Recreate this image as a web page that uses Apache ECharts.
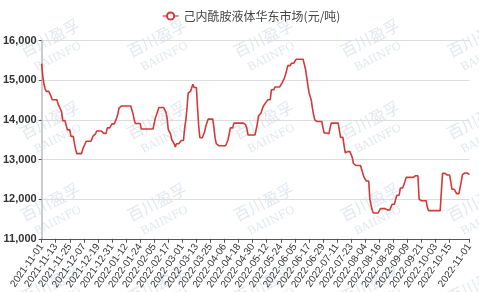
<!DOCTYPE html>
<html><head><meta charset="utf-8">
<script src="https://cdn.jsdelivr.net/npm/echarts@6/dist/echarts.min.js"></script>
<style>html,body{margin:0;padding:0;background:#fff}#c{width:479px;height:292px}</style>
</head><body><div id="c"></div>
<script>
// ---- data ----
const startDate = '2021-11-01';   // first category (daily categories through 2022-11-01)
const dayCount = 366;
const seriesName = '己内酰胺液体华东市场(元/吨)';
const prices = [
15420,15100,14900,14780,14720,14720,14720,14720,14600,14510,
14510,14510,14510,14510,14400,14340,14300,14210,13980,13980,
13980,13850,13750,13750,13750,13585,13585,13585,13400,13250,
13150,13150,13150,13150,13150,13250,13330,13330,13460,13460,
13460,13460,13460,13460,13600,13650,13650,13720,13720,13720,
13720,13720,13720,13660,13660,13660,13800,13800,13800,13850,
13900,13900,13900,13950,14050,14150,14300,14350,14350,14350,
14350,14350,14350,14350,14350,14350,14350,14350,14150,14000,
13910,13910,13910,13910,13910,13770,13770,13770,13770,13770,
13770,13770,13770,13770,13770,13770,13770,14050,14130,14130,
14315,14315,14315,14315,14315,14315,14200,14050,13760,13760,
13650,13500,13500,13400,13320,13400,13400,13400,13400,13480,
13480,13480,13800,13990,14300,14680,14720,14720,14760,14900,
14820,14820,14820,14300,13840,13550,13550,13550,13550,13700,
13840,13840,14020,14020,14020,14020,14020,13800,13540,13400,
13350,13350,13350,13350,13350,13350,13350,13350,13350,13500,
13500,13800,13800,13800,13920,13920,13920,13920,13920,13920,
13920,13920,13920,13920,13880,13800,13620,13620,13620,13620,
13620,13620,13620,13620,13900,14100,14100,14170,14170,14340,
14340,14430,14430,14510,14510,14510,14760,14760,14760,14830,
14830,14830,14830,14830,14880,14930,14930,15050,15140,15250,
15370,15370,15370,15430,15430,15430,15430,15530,15530,15530,
15530,15530,15530,15530,15530,15300,15100,14900,14700,14700,
14500,14300,14130,14000,14000,13960,13960,13960,13960,13960,
13800,13670,13670,13670,13650,13650,13650,13920,13920,13920,
13920,13920,13920,13920,13920,13560,13560,13560,13350,13170,
13200,13200,13200,13200,13200,13050,12900,12850,12850,12850,
12850,12850,12850,12850,12650,12550,12550,12460,12460,12460,
12000,11850,11720,11650,11650,11650,11650,11650,11650,11760,
11760,11760,11760,11760,11760,11730,11730,11730,11800,11870,
11870,11870,12000,12100,12100,12100,12280,12280,12280,12280,
12450,12550,12550,12550,12550,12550,12550,12550,12590,12590,
12590,12590,12000,11960,11960,11960,11960,11960,11960,11800,
11710,11710,11710,11710,11710,11710,11710,11710,11710,11710,
11710,12200,12650,12650,12650,12610,12610,12610,12610,12450,
12250,12250,12250,12250,12140,12140,12140,12140,12450,12620,
12620,12660,12660,12660,12660,12620
];
const yMin = 11000, yMax = 16000, yStep = 1000;
const labelEvery = 12;
const watermarkTexts = ['百川盈孚', 'BAIINFO'];

// ---- categories (calendar days) ----
const categories = [];
{
  const p = startDate.split('-').map(Number);
  const t0 = Date.UTC(p[0], p[1] - 1, p[2]);
  for (let i = 0; i < dayCount; i++) {
    const d = new Date(t0 + i * 86400000);
    categories.push(d.getUTCFullYear() + '-' + String(d.getUTCMonth() + 1).padStart(2, '0') + '-' + String(d.getUTCDate()).padStart(2, '0'));
  }
}
const lastIdx = dayCount - 1;
const showIdx = (i) => (i % labelEvery === 0 && lastIdx - i >= labelEvery) || i === lastIdx;

// ---- watermark ----
const wm = [];
for (let r = 0; r < 4; r++) {
  for (let c = 0; c < 5; c++) {
    const cx = 50 + c * 106.7, cy = 38 + r * 82;
    wm.push({type: 'text', x: cx, y: cy, rotation: 0.47, silent: true, z: -10,
      style: {text: watermarkTexts[0], fontSize: 16, fill: 'rgba(190,202,220,0.45)', align: 'center', verticalAlign: 'middle', fontFamily: 'Noto Sans CJK SC'}});
    wm.push({type: 'text', x: cx + 8, y: cy + 19, rotation: 0.47, silent: true, z: -10,
      style: {text: watermarkTexts[1], fontSize: 11, fill: 'rgba(190,202,220,0.45)', align: 'center', verticalAlign: 'middle', fontFamily: 'DejaVu Serif'}});
  }
}

const chart = echarts.init(document.getElementById('c'), null, {renderer: 'canvas'});
chart.setOption({
  animation: false,
  backgroundColor: '#fff',
  graphic: wm,
  legend: {
    top: 5, left: 157,
    itemWidth: 16, itemHeight: 9, itemGap: 10,
    lineStyle: {width: 1.2},
    textStyle: {fontSize: 12, color: '#444', fontFamily: 'Noto Sans CJK SC'},
    data: [seriesName]
  },
  grid: {left: 41, right: 9.5, top: 40.7, bottom: 52.7},
  xAxis: {
    type: 'category', data: categories, boundaryGap: false,
    axisLine: {lineStyle: {color: '#555', width: 1}},
    axisTick: {show: true, interval: showIdx, length: 4, lineStyle: {color: '#555'}},
    axisLabel: {interval: showIdx, rotate: 55, fontSize: 10, color: '#333', margin: 6, fontFamily: 'Liberation Sans'}
  },
  yAxis: {
    type: 'value', min: yMin, max: yMax, interval: yStep,
    axisLine: {show: true, lineStyle: {color: '#ccc', width: 2}},
    axisTick: {show: true, length: 3, lineStyle: {color: '#555'}},
    splitLine: {lineStyle: {color: '#ddd', width: 1}},
    axisLabel: {fontSize: 11, fontWeight: 'bold', color: '#333', margin: 5, fontFamily: 'Liberation Sans',
      formatter: (v) => v.toLocaleString('en-US')}
  },
  series: [{
    name: seriesName, type: 'line', data: prices,
    showSymbol: false, symbol: 'emptyCircle', symbolSize: 7,
    lineStyle: {color: '#d23a3a', width: 1.6},
    itemStyle: {color: '#d23a3a'}
  }]
});
</script></body></html>
